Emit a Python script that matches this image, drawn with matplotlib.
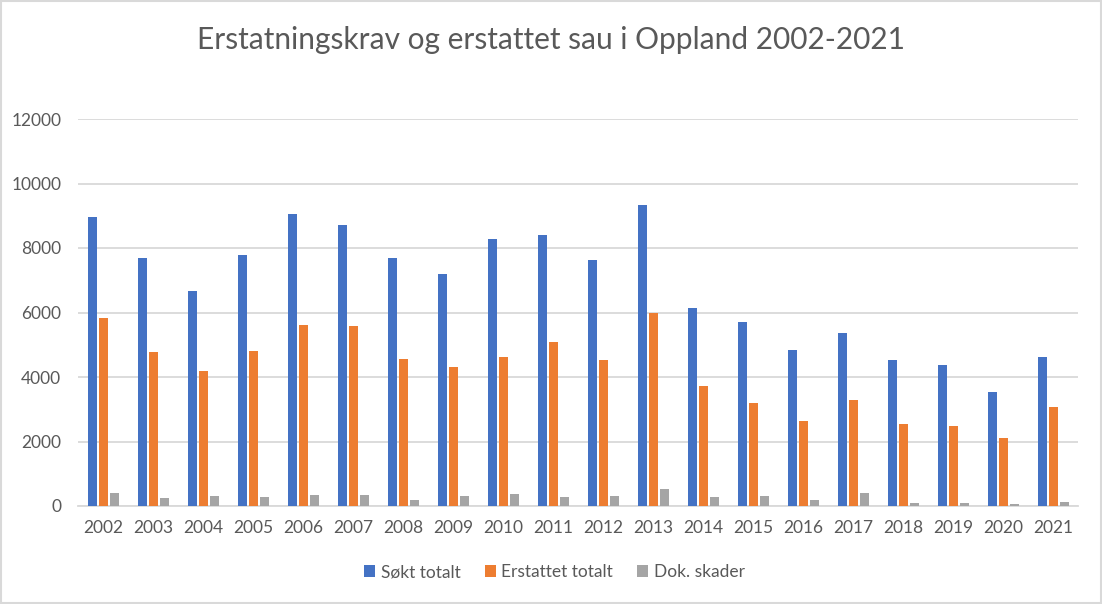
import numpy as np
import matplotlib
matplotlib.use("Agg")
import matplotlib.pyplot as plt

# Data
years = [str(y) for y in range(2002, 2022)]
sokt_totalt = [8950, 7680, 6660, 7780, 9050, 8710, 7680, 7190, 8270, 8400,
               7620, 9330, 6130, 5720, 4850, 5350, 4540, 4360, 3550, 4630]
erstattet_totalt = [5820, 4760, 4200, 4820, 5600, 5570, 4570, 4320, 4630, 5070,
                    4540, 6000, 3730, 3200, 2640, 3300, 2550, 2490, 2120, 3080]
dok_skader = [410, 250, 310, 280, 340, 340, 190, 310, 370, 280,
              310, 530, 280, 310, 190, 400, 95, 95, 65, 125]

series = [("Søkt totalt", sokt_totalt, "#4472C4"),
          ("Erstattet totalt", erstattet_totalt, "#ED7D31"),
          ("Dok. skader", dok_skader, "#A5A5A5")]

text_col = "#595959"
grid_col = "#D9D9D9"
plt.rcParams['font.family'] = ['Lato', 'DejaVu Sans']

fig = plt.figure(figsize=(11.02, 6.04), dpi=100)
ax = fig.add_axes([78/1102, 1 - 506/604, 1000/1102, 387/604])

x = np.arange(len(years))
offsets = [-0.22, 0.0, 0.22]
for (name, vals, col), off in zip(series, offsets):
    ax.bar(x + off, vals, width=0.18, color=col, label=name, zorder=3)

ax.set_xlim(-0.5, len(years) - 0.5)
ax.set_ylim(0, 12000)
ax.set_yticks(range(0, 12001, 2000))
ax.set_xticks(x)
ax.set_xticklabels(years)
ax.yaxis.grid(True, color=grid_col, linewidth=1.3, zorder=0)
ax.tick_params(axis='both', length=0, labelsize=12.5, colors=text_col)
ax.tick_params(axis='y', pad=12)
ax.tick_params(axis='x', pad=10)
for s in ['top', 'right', 'left']:
    ax.spines[s].set_visible(False)
ax.spines['bottom'].set_color(grid_col)
ax.spines['bottom'].set_linewidth(1.3)

fig.text(0.5, 1 - 40/604, "Erstatningskrav og erstattet sau i Oppland 2002-2021",
         ha='center', va='center', fontsize=21.5, color=text_col)

fig.legend(loc='center', bbox_to_anchor=(0.503, 1 - 572/604), ncol=3, frameon=False,
           fontsize=12.5, labelcolor=text_col, handlelength=0.65, handleheight=0.65,
           handletextpad=0.3, columnspacing=1.4)

# chart border
fig.patches.append(plt.Rectangle((0.001, 0.001), 0.998, 0.997, transform=fig.transFigure,
                                 fill=False, edgecolor=grid_col, linewidth=1.5))

fig.savefig("out.png", dpi=100)
